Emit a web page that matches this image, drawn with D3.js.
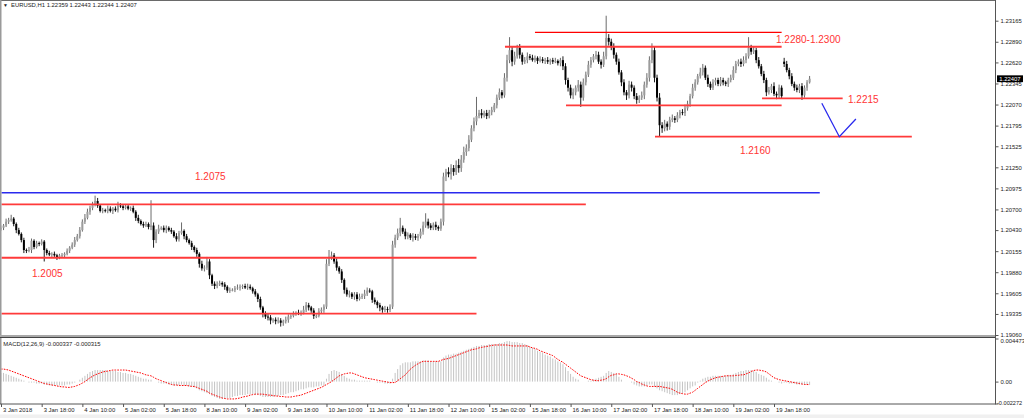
<!DOCTYPE html>
<html><head><meta charset="utf-8">
<script src="https://cdn.jsdelivr.net/npm/d3@7"></script>
<style>
body{margin:0;background:#fff;overflow:hidden;}
svg{display:block;font-family:"Liberation Sans",Arial,sans-serif;}
</style>
</head><body>
<svg id="c" width="1024" height="418"></svg>
<script>
// ---------------- DATA ----------------
const symbolTitle = "EURUSD,H1  1.22359 1.22443 1.22344 1.22407";
const macdTitle = "MACD(12,26,9) -0.000337 -0.000315";
const timeLabels = ["3 Jan 2018","3 Jan 18:00","4 Jan 10:00","5 Jan 02:00","5 Jan 18:00","8 Jan 10:00",
  "9 Jan 02:00","9 Jan 18:00","10 Jan 10:00","11 Jan 02:00","11 Jan 18:00","12 Jan 10:00","15 Jan 02:00",
  "15 Jan 18:00","16 Jan 10:00","17 Jan 02:00","17 Jan 18:00","18 Jan 10:00","19 Jan 02:00","19 Jan 18:00"];
const barsPerLabel = 16;
const priceTicks = [1.23165,1.22890,1.22620,1.22345,1.22070,1.21795,1.21525,1.21250,1.20975,1.20700,
  1.20430,1.20155,1.19880,1.19605,1.19335,1.19060];
const macdTicks = [0.004473, 0, -0.002272];
const macdTickText = ["0.004473","0.00","-0.002272"];
const currentPrice = 1.22407;

// hourly closes (open = previous close, except the weekend gap)
const firstOpen = 1.2044;
const gapOpens = [[308, 1.2263]];
const closes = [
1.2046,1.2049,1.2054,1.2056,1.2058,1.2051,1.2043,1.2038,1.2030,1.2017,
1.2016,1.2017,1.2029,1.2021,1.2026,1.2025,1.2028,1.2017,1.2013,1.2011,
1.2012,1.2010,1.2008,1.2010,1.2010,1.2012,1.2016,1.2020,1.2024,1.2030,
1.2035,1.2043,1.2054,1.2059,1.2067,1.2072,1.2076,1.2081,1.2075,1.2068,
1.2069,1.2068,1.2071,1.2068,1.2071,1.2069,1.2075,1.2074,1.2072,1.2074,
1.2071,1.2072,1.2067,1.2059,1.2055,1.2051,1.2049,1.2051,1.2047,1.2049,
1.2030,1.2041,1.2045,1.2046,1.2043,1.2046,1.2043,1.2041,1.2035,1.2031,
1.2039,1.2042,1.2035,1.2030,1.2026,1.2021,1.2017,1.2012,1.1999,1.1993,
1.1994,1.2002,1.1984,1.1973,1.1970,1.1972,1.1974,1.1972,1.1969,1.1964,
1.1965,1.1965,1.1967,1.1968,1.1969,1.1970,1.1968,1.1969,1.1967,1.1963,
1.1959,1.1953,1.1942,1.1934,1.1930,1.1929,1.1925,1.1926,1.1924,1.1925,
1.1922,1.1924,1.1926,1.1930,1.1931,1.1934,1.1935,1.1934,1.1935,1.1939,
1.1945,1.1942,1.1938,1.1931,1.1931,1.1937,1.1939,1.1943,1.1999,1.2008,
1.2010,1.2002,1.1994,1.1989,1.1978,1.1965,1.1959,1.1960,1.1956,1.1959,
1.1953,1.1956,1.1957,1.1960,1.1964,1.1963,1.1952,1.1949,1.1945,1.1942,
1.1939,1.1940,1.1939,1.1943,1.2024,1.2033,1.2039,1.2046,1.2041,1.2035,
1.2037,1.2033,1.2035,1.2033,1.2035,1.2041,1.2049,1.2054,1.2049,1.2046,
1.2050,1.2047,1.2045,1.2054,1.2113,1.2119,1.2116,1.2124,1.2119,1.2128,
1.2124,1.2135,1.2145,1.2150,1.2161,1.2176,1.2185,1.2192,1.2196,1.2193,
1.2196,1.2192,1.2197,1.2200,1.2206,1.2216,1.2223,1.2219,1.2242,1.2265,
1.2278,1.2263,1.2270,1.2281,1.2272,1.2263,1.2265,1.2270,1.2268,1.2265,
1.2268,1.2264,1.2266,1.2264,1.2265,1.2263,1.2265,1.2263,1.2264,1.2261,
1.2265,1.2257,1.2239,1.2229,1.2219,1.2223,1.2229,1.2233,1.2216,1.2236,
1.2246,1.2259,1.2265,1.2270,1.2272,1.2263,1.2259,1.2270,1.2294,1.2289,
1.2282,1.2272,1.2263,1.2249,1.2236,1.2223,1.2219,1.2233,1.2229,1.2218,
1.2213,1.2216,1.2219,1.2233,1.2242,1.2265,1.2278,1.2242,1.2216,1.2180,
1.2176,1.2182,1.2178,1.2187,1.2189,1.2187,1.2193,1.2197,1.2196,1.2202,
1.2208,1.2218,1.2229,1.2236,1.2244,1.2249,1.2255,1.2242,1.2234,1.2229,
1.2236,1.2239,1.2234,1.2239,1.2236,1.2234,1.2239,1.2242,1.2252,1.2260,
1.2263,1.2260,1.2265,1.2270,1.2281,1.2276,1.2278,1.2265,1.2257,1.2247,
1.2239,1.2223,1.2226,1.2231,1.2221,1.2219,1.2229,1.2218,1.2260,1.2252,
1.2244,1.2234,1.2229,1.2226,1.2231,1.2219,1.2229,1.22359,1.22407];
// upper / lower wick lengths in pips beyond the body
const wickUp = [
3,2,4,3,5,2,2,3,2,3, 2,4,3,2,3,2,3,2,2,3, 2,3,2,2,3,2,3,2,3,4, 3,4,3,5,4,3,4,7,4,2,
3,2,4,3,2,3,5,3,2,3, 3,2,3,2,4,2,3,3,2,33, 4,3,5,2,3,3,2,3,2,4, 3,11,2,3,2,3,2,3,2,4,
3,6,3,2,3,4,3,2,3,2, 3,2,3,4,3,2,3,4,3,2, 3,2,3,2,3,4,3,2,3,4, 3,2,4,3,2,3,2,4,3,5,
4,3,2,3,2,4,3,3,6,9, 5,3,4,2,3,2,3,4,2,3, 3,4,3,5,4,3,2,3,2,3, 2,4,3,3,5,4,6,13,3,4,
3,2,4,3,3,4,5,11,4,3, 3,4,2,4,5,4,6,5,4,6, 8,6,7,5,6,4,5,25,4,5, 3,4,3,4,3,4,5,3,6,7,
17,5,6,4,5,3,4,5,3,4, 3,2,4,3,3,4,2,3,4,2, 3,5,4,3,4,5,3,6,4,5, 4,5,4,3,5,4,3,6,29,5,
4,5,3,4,3,4,3,5,4,3, 4,3,5,4,6,5,9,5,4,6, 4,5,3,4,5,3,4,3,4,5, 4,3,5,4,3,6,5,3,4,3,
4,3,3,4,3,2,3,4,5,4, 3,4,5,4,14,4,5,3,4,3, 4,3,4,3,5,3,4,3,5,4, 3,4,3,4,3,4,3,3,3.6];
const wickDown = [
2,3,2,3,2,3,4,2,3,4, 3,2,4,3,2,3,2,15,3,2, 3,2,4,3,2,3,2,3,2,3, 2,3,2,3,2,4,3,2,3,2,
3,2,3,2,4,2,3,2,3,2, 2,3,2,4,3,2,3,2,3,4, 10,4,3,2,3,4,2,3,2,3, 3,2,4,3,2,4,3,4,5,3,
4,3,5,3,4,3,2,3,4,3, 3,2,3,2,4,3,2,3,2,3, 3,4,3,5,3,4,5,3,4,3, 5,4,3,4,3,2,3,2,3,2,
3,4,3,4,3,2,3,4,3,3, 4,3,4,3,4,5,3,4,3,4, 3,2,3,4,3,2,4,3,4,5, 4,3,4,3,3,4,3,4,3,4,
4,3,5,3,4,3,4,3,4,3, 3,4,3,3,5,6,4,7,5,4, 6,5,4,5,4,3,4,5,3,4, 3,4,3,4,3,4,3,4,3,5,
4,6,4,3,5,4,3,4,3,2, 3,4,2,3,4,3,4,3,2,3, 4,5,6,5,4,5,4,5,12,4, 4,3,4,3,4,3,5,3,4,5,
4,5,4,3,5,4,6,4,5,4, 5,4,3,5,4,5,4,6,5,15, 6,4,5,4,3,4,3,4,3,4, 3,4,3,4,3,3,4,3,4,3,
3,4,3,3,4,3,4,3,3,4, 3,4,3,4,3,4,3,4,3,3, 4,5,3,4,3,5,4,3,4,3, 4,3,4,3,4,6,3,4,1.5];

// MACD(12,26,9): main (histogram) and signal, in units of 1e-4
const macdMainE4 = [
9,9,8,7,6,5,4,3,2,1, 0,-1,-1,-1,-2,-2,-2,-3,-3,-4, -4,-4,-4,-4,-4,-4,-3,-3,-2,-1,
0,2,4,6,8,10,11,12,12,12, 12,12,11,11,11,11,10,10,9,9, 8,8,7,6,5,4,3,3,2,2,
0,0,-1,-2,-2,-2,-3,-3,-4,-4, -4,-3,-4,-4,-5,-5,-6,-7,-9,-10, -11,-12,-13,-15,-16,-17,-18,-18,-18,-17,
-17,-16,-15,-15,-14,-14,-14,-13,-13,-13, -14,-14,-15,-16,-16,-16,-16,-16,-15,-15, -14,-14,-13,-12,-11,-11,-10,-9,-8,-8,
-7,-6,-6,-6,-5,-5,-4,-4,3,8, 11,12,11,10,8,6,4,3,2,2, 1,1,1,1,1,1,0,0,-1,-1,
-1,-2,-2,-2,3,9,13,17,19,20, 20,20,21,21,21,21,22,22,22,21, 21,21,21,21,25,27,28,28,29,29,
30,31,32,33,34,35,36,37,37,38, 38,38,39,39,39,39,40,40,41,42, 42,41,41,41,40,40,39,38,36,35,
34,32,31,30,28,27,26,24,23,21, 20,18,15,11,8,5,3,2,0,0, 0,1,1,2,3,4,5,6,9,11,
10,9,8,5,2,0,0,0,-1,-3, -4,-5,-5,-5,-4,-3,-3,-5,-7,-9, -10,-11,-12,-13,-14,-14,-14,-13,-12,-11,
-9,-7,-5,-4,-1,1,3,4,5,5, 6,6,6,6,6,6,7,7,8,9, 10,11,11,12,12,12,11,10,8,7,
6,4,2,1,0,0,-1,-2,-1,-1, -2,-2,-2,-3,-3,-3,-3,-3,-3.37];
const macdSignalE4 = [
13,13,12.5,12,11,10,9,8,7,6, 5,4,3,2,1,0,-1,-2,-2.5,-3, -3.5,-4,-4.5,-5,-5.5,-5.5,-6,-6,-5.5,-5,
-4,-3,-1.5,0,2,4,5.5,7,8,9, 10,10.5,11,11.5,12,12,12,12,12,12, 11.5,11,10.5,10,9.5,9,8,7,6.5,6,
4.5,3,2,1,0,-1,-2,-3,-3.5,-3.5, -4,-4,-4,-4,-4.5,-5,-5,-6,-7,-8, -9,-10,-12,-13,-14,-15,-16,-17,-17.5,-18,
-18,-18,-18,-17.5,-17,-16,-15.5,-15,-14,-13.5, -13,-13,-13,-13,-13.5,-14,-14,-14.5,-15,-15, -15.5,-15.5,-16,-16,-16,-15.5,-15,-14.5,-14,-13,
-12,-11,-10,-9,-8,-7,-6,-4.5,-3,-1.5, 0,2,4,6,7,8,8.5,9,9,8, 7,6,5,4,3.5,3,2.5,2,1.5,1,
0.5,0,-0.5,-1,-1,-1,1,3,5,7, 10,13,15,17,18.5,20,21,21,21,21, 21,21,21,22,23,23.5,24,25,26,27,
28,29,30,31,32,33,33.5,34,35,35.5, 36,36.5,37,37.5,38,38,38,38,38,38, 37.5,37,37,37,37,37,37,37,36,35,
34.5,33.5,32,31,30,29,28,27,25,23, 21.5,20,18,16,14,12,10,8,6,5, 4,3,2,1.5,1,1,1.5,2,3,5,
6.5,7,8,8,7.5,7,6,5,3.5,2, 0,-1,-2.5,-3.5,-4.5,-5,-5,-5,-5,-5, -5.5,-6,-6.5,-7,-8,-9.5,-11,-12,-12.5,-13,
-13,-12,-11,-9,-7,-5,-3,-1,0.5,2, 3,4,4.5,5,5.5,6,6,6,6,6.5, 6.5,7,7,8,9,10.5,11.5,12,12,11.5,
11,10,8,6,4,3,2,1.5,1,0.5, 0,-0.5,-1,-1.5,-2,-2.5,-3,-3,-3.15];

// analyst drawings: [startBar, endBar, price]
const redLines = [[-0.5,230,1.20767],[-0.5,187,1.20069],[-0.5,187,1.19338],[210,307,1.23013],
  [198.2,307,1.22825],[222.2,307,1.22060],[299.3,331,1.22151],[257.2,358.2,1.21650]];
const blueLine = [-0.5,322,1.20918];
const bluePath = [[322.8,1.22086],[329.7,1.21650],[336.2,1.21881]];
const notes = [["1.2075",76.3,1.21084],["1.2005",12.2,1.19811],["1.2280-1.2300",304.8,1.22870],
  ["1.2215",333.1,1.22086],["1.2160",290.6,1.21420]];

// ---------------- DRAW ----------------
const svg = d3.select("#c");
const W = 1024, H = 418, AX = 995.5;
const x = d3.scaleLinear().domain([0, 304]).range([1, 774]);
const y = d3.scaleLinear().domain([1.19060, 1.23165]).range([335, 20.7]);
const ym = d3.scaleLinear().domain([-0.002272, 0.004473]).range([403.5, 338.5]);
const pip = 0.0001;

svg.append("rect").attr("width",W).attr("height",H).attr("fill","#fff");
svg.append("rect").attr("x",0).attr("y",414.5).attr("width",W).attr("height",4).attr("fill","#f0f0f0");

const defs = svg.append("defs");
defs.append("clipPath").attr("id","mainClip").append("rect").attr("x",1.5).attr("y",1).attr("width",AX-1.5).attr("height",334);
defs.append("clipPath").attr("id","macdClip").append("rect").attr("x",1.5).attr("y",338).attr("width",AX-1.5).attr("height",66);

const candles = closes.map((c,i) => {
  let o = i === 0 ? firstOpen : closes[i-1];
  gapOpens.forEach(g => { if (g[0] === i) o = g[1]; });
  const hi = Math.max(o,c) + wickUp[i]*pip;
  const lo = Math.min(o,c) - wickDown[i]*pip;
  return {i, o, c, hi, lo, up: c >= o};
});

const main = svg.append("g").attr("clip-path","url(#mainClip)");
const cg = main.append("g");
cg.selectAll("line.w").data(candles).join("line")
  .attr("x1",d=>x(d.i)).attr("x2",d=>x(d.i))
  .attr("y1",d=>y(d.hi)).attr("y2",d=>y(d.lo))
  .attr("stroke",d=>d.up?"#5a5a5a":"#000").attr("stroke-width",0.9);
cg.selectAll("rect.b").data(candles).join("rect")
  .attr("x",d=>x(d.i)-1).attr("width",2)
  .attr("y",d=>y(Math.max(d.o,d.c)))
  .attr("height",d=>Math.max(0.9, y(Math.min(d.o,d.c))-y(Math.max(d.o,d.c))))
  .attr("fill",d=>d.up?"#9c9c9c":"#000");

// drawings
main.append("line").attr("x1",x(blueLine[0])).attr("x2",x(blueLine[1]))
  .attr("y1",y(blueLine[2])).attr("y2",y(blueLine[2]))
  .attr("stroke","#2a2aee").attr("stroke-width",1.5);
main.selectAll("line.r").data(redLines).join("line")
  .attr("x1",d=>x(d[0])).attr("x2",d=>x(d[1]))
  .attr("y1",d=>y(d[2])).attr("y2",d=>y(d[2]))
  .attr("stroke",(d,i)=>i===3?"#ff0000":"#ff3a3a").attr("stroke-width",(d,i)=>i===3?1.2:1.8);
main.append("path").datum(bluePath)
  .attr("d", d3.line().x(d=>x(d[0])).y(d=>y(d[1])))
  .attr("fill","none").attr("stroke","#2a2aee").attr("stroke-width",1.3);
main.selectAll("text.n").data(notes).join("text")
  .attr("x",d=>x(d[1])).attr("y",d=>y(d[2]))
  .attr("font-size","10px").attr("fill","#ff3434").text(d=>d[0]);

// MACD panel
const mg = svg.append("g").attr("clip-path","url(#macdClip)");
mg.selectAll("line.h").data(macdMainE4).join("line")
  .attr("x1",(d,i)=>x(i)).attr("x2",(d,i)=>x(i))
  .attr("y1",ym(0)).attr("y2",d=>ym(d*pip))
  .attr("stroke","#c4c4c4").attr("stroke-width",1);
mg.append("path").datum(macdSignalE4)
  .attr("d", d3.line().x((d,i)=>x(i)).y(d=>ym(d*pip)))
  .attr("fill","none").attr("stroke","#ff0000").attr("stroke-width",1)
  .attr("stroke-dasharray","1.6,1.2");

// frames
const frame = svg.append("g").attr("fill","none");
frame.append("line").attr("x1",0).attr("x2",AX).attr("y1",0.5).attr("y2",0.5).attr("stroke","#6a6a6a");
frame.append("line").attr("x1",0.75).attr("x2",0.75).attr("y1",0).attr("y2",404).attr("stroke","#9a9a9a").attr("stroke-width",1.5);
frame.append("line").attr("x1",0).attr("x2",AX).attr("y1",336).attr("y2",336).attr("stroke","#a8a8a8").attr("stroke-width",2);
frame.append("line").attr("x1",0).attr("x2",AX).attr("y1",337.5).attr("y2",337.5).attr("stroke","#444");
frame.append("line").attr("x1",0).attr("x2",AX).attr("y1",404).attr("y2",404).attr("stroke","#555");

// axes
const fontSize = "5.9px";
const ax1 = svg.append("g").attr("transform",`translate(${AX},0)`)
  .call(d3.axisRight(y).tickValues(priceTicks).tickSize(3).tickPadding(2).tickFormat(d3.format(".5f")));
const ax2 = svg.append("g").attr("transform",`translate(${AX},0)`)
  .call(d3.axisRight(ym).tickValues(macdTicks).tickSize(3).tickPadding(2).tickFormat((d,i)=>macdTickText[i]));
[ax1,ax2].forEach(a=>{
  a.select(".domain").remove();
  a.selectAll("line").attr("stroke","#555");
  a.selectAll("text").attr("font-size",fontSize).attr("fill","#222").attr("font-family","'Liberation Sans',Arial,sans-serif");
});
ax2.selectAll(".tick text").filter((d,i)=>i===0).attr("dy","0.75em");
ax2.selectAll(".tick text").filter((d,i)=>i===2).attr("dy","0.1em").attr("x",1.5).attr("font-size","5.6px");
svg.append("line").attr("x1",AX).attr("x2",AX).attr("y1",0).attr("y2",404.5).attr("stroke","#555");

const tickIdx = timeLabels.map((t,k)=>k*barsPerLabel);
const ax3 = svg.append("g").attr("transform","translate(0,404)")
  .call(d3.axisBottom(x).tickValues(tickIdx).tickSize(3).tickFormat((d,k)=>timeLabels[k]));
ax3.select(".domain").remove();
ax3.selectAll("line").attr("stroke","#555");
ax3.selectAll("text").attr("text-anchor","start").attr("x",1.5).attr("y",4)
  .attr("font-size",fontSize).attr("fill","#222").attr("font-family","'Liberation Sans',Arial,sans-serif");

// current price marker
const cp = svg.append("g").attr("transform",`translate(${AX+1.5},${y(currentPrice)})`);
cp.append("rect").attr("x",0).attr("y",-3.4).attr("width",26).attr("height",6.8).attr("fill","#000");
cp.append("text").attr("x",2.3).attr("y",0).attr("dy","0.34em").attr("font-size",fontSize)
  .attr("fill","#fff").text(d3.format(".5f")(currentPrice));

// titles
svg.append("text").attr("x",3).attr("y",7.3).attr("font-size","5px").attr("fill","#222").text("\u25BC");
svg.append("text").attr("x",11).attr("y",7.4).attr("font-size",fontSize).attr("fill","#222").text(symbolTitle);
svg.append("text").attr("x",3.3).attr("y",346).attr("font-size",fontSize).attr("fill","#222").text(macdTitle);
</script>
</body></html>
